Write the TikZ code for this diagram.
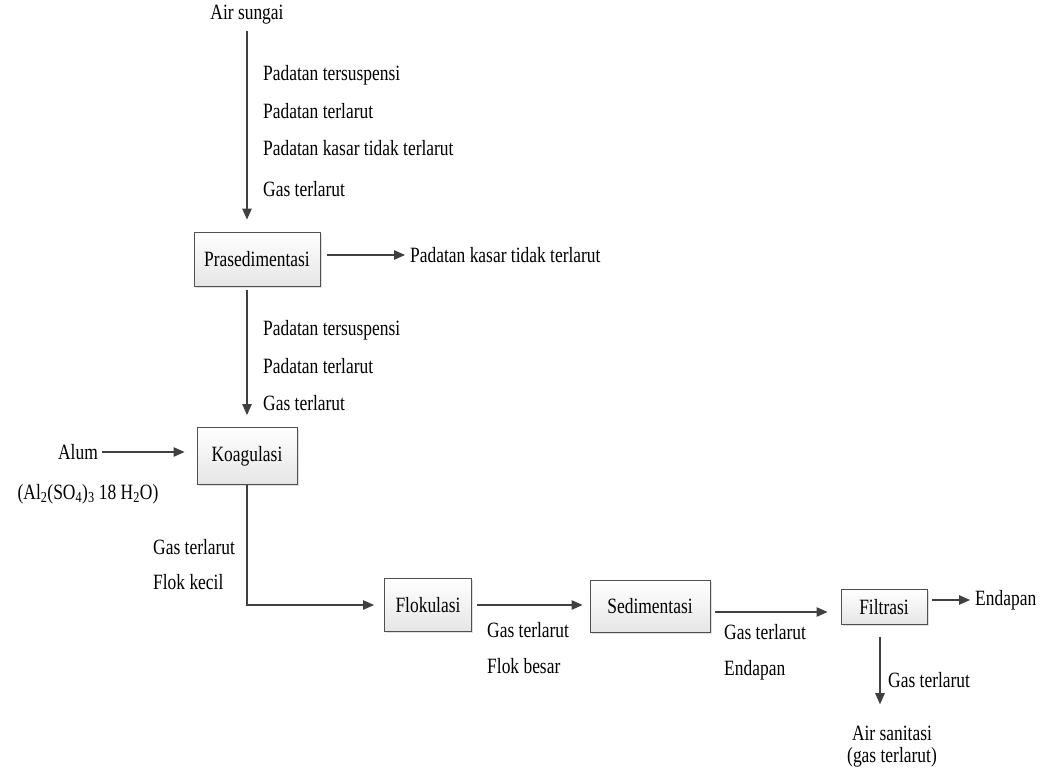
\documentclass[tikz,border=0pt]{standalone}
\usepackage{fontspec}
\setmainfont{Liberation Serif}[FakeStretch=0.8]
\usetikzlibrary{arrows.meta,positioning,shadows}
\definecolor{linegray}{HTML}{404040}
\definecolor{boxedge}{HTML}{505050}
\newcommand{\flowfont}{\fontsize{21.8}{22}\selectfont}
\tikzset{
    procbox/.style={draw=boxedge, line width=0.9pt, top color=white, bottom color=gray!20,
        drop shadow={opacity=0.25, shadow xshift=1.5pt, shadow yshift=-1.5pt},
        font=\flowfont, inner sep=2pt},
    flow/.style={-{Triangle[length=11pt,width=9.5pt]}, linegray, line width=1.1pt},
    lbl/.style={anchor=west, font=\flowfont, inner sep=0pt},
    plain/.style={font=\flowfont, inner sep=2pt},
}

\begin{document}
\begin{tikzpicture}[x=1pt,y=-1pt]
    \useasboundingbox (0,0) rectangle (1047,769);

    % Source
    \node[plain] (sungai) at (247,15) {Air sungai};

    % Process units
    \node[procbox, minimum width=126pt, minimum height=54pt] (prased) at (257,259) {Prasedimentasi};
    \node[procbox, minimum width=100pt, minimum height=57pt] (koag) at (247,456) {Koagulasi};
    \node[procbox, minimum width=87pt, minimum height=53pt] (flok) at (428,605) {Flokulasi};
    \node[procbox, minimum width=120pt, minimum height=52pt] (sedim) at (650,606) {Sedimentasi};
    \node[procbox, minimum width=86pt, minimum height=35pt] (filt) at (884,607) {Filtrasi};

    % Side streams
    \node[lbl] (kasar) at (410,255) {Padatan kasar tidak terlarut};
    \node[plain] (alum) at (78,452) {Alum};
    \node[plain] (rumus) at (88,494) {(Al\textsubscript{2}(SO\textsubscript{4})\textsubscript{3} 18 H\textsubscript{2}O)};
    \node[lbl] (endapan) at (975,600) {Endapan};
    \node[plain, align=center] (sanitasi) at (892,747) {Air sanitasi\\(gas terlarut)};

    % Stream contents
    \foreach \y/\txt in {75/Padatan tersuspensi, 111/Padatan terlarut, 148/Padatan kasar tidak terlarut, 189/Gas terlarut}
        \node[lbl] (isi\y) at (263,\y) {\txt};
    \foreach \y/\txt in {330/Padatan tersuspensi, 366/Padatan terlarut, 403/Gas terlarut}
        \node[lbl] (isi\y) at (263,\y) {\txt};
    \foreach \y/\txt in {547/Gas terlarut, 582/Flok kecil}
        \node[lbl] (isi\y) at (153,\y) {\txt};
    \foreach \y/\txt in {630/Gas terlarut, 666/Flok besar}
        \node[lbl] (isi\y) at (487,\y) {\txt};
    \foreach \y/\txt in {632/Gas terlarut, 670/Endapan}
        \node[lbl] (isi\y) at (724,\y) {\txt};
    \node[lbl] (isifilt) at (888,680) {Gas terlarut};

    % Connectors
    \draw[flow, shorten <=4pt, shorten >=12pt] (sungai) -- (sungai |- prased.north);
    \draw[flow, shorten <=7pt, shorten >=5pt] (prased.east |- kasar) -- (kasar.west);
    \draw[flow, shorten <=4pt, shorten >=12pt] (prased.south -| koag) -- (koag.north);
    \draw[flow, shorten <=2pt, shorten >=12pt] (alum) -- (alum -| koag.west);
    \draw[flow, shorten >=10pt] (koag.south) |- (flok.west);
    \draw[flow, shorten <=5pt, shorten >=7pt] (flok) -- (flok -| sedim.west);
    \draw[flow, shorten <=5pt, shorten >=13pt] ([yshift=-6pt]sedim.east) -- ([yshift=-6pt]sedim.east -| filt.west);
    \draw[flow, shorten <=5pt, shorten >=5pt] (filt.east |- endapan) -- (endapan.west);
    \draw[flow, shorten <=12pt, shorten >=20pt] ([xshift=-4pt]filt.south) -- ([xshift=-4pt]filt.south |- sanitasi.north);
\end{tikzpicture}
\end{document}
